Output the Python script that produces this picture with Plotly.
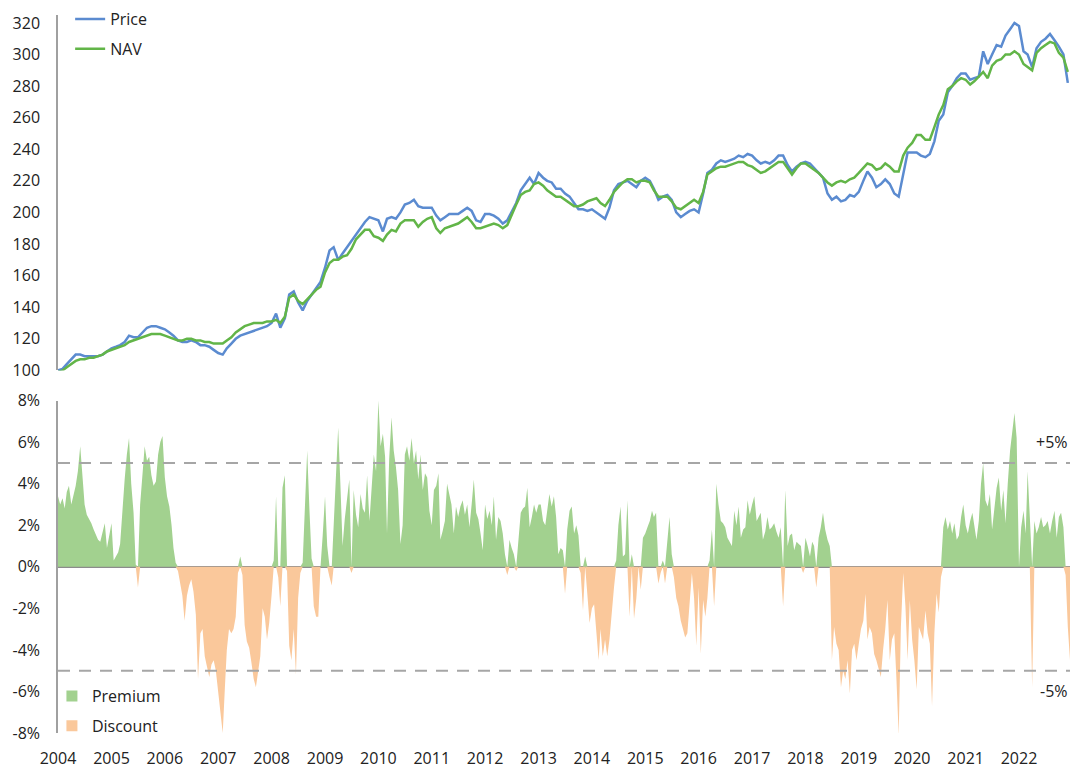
"""Price vs NAV with premium / discount panel."""

import pandas as pd
import plotly.graph_objects as go
from plotly.subplots import make_subplots

# monthly price and NAV, rebased to 100 (Jan 2004 .. Dec 2022)
price = [
    100, 101, 104, 107, 110, 110, 109, 109, 109, 109, 110, 112,
    114, 115, 116, 118, 122, 121, 121, 124, 127, 128, 128, 127,
    126, 124, 122, 119, 118, 118, 119, 118, 116, 116, 115, 113,
    111, 110, 114, 117, 120, 122, 123, 124, 125, 126, 127, 128,
    130, 136, 127, 133, 148, 150, 143, 138, 144, 148, 152, 156,
    165, 176, 178, 170, 174, 178, 182, 186, 190, 194, 197, 196,
    195, 188, 196, 197, 196, 200, 205, 206, 208, 204, 203, 203,
    203, 198, 195, 197, 199, 199, 199, 201, 203, 201, 195, 194,
    199, 199, 198, 196, 193, 195, 200, 206, 214, 218, 222, 218,
    225, 222, 220, 219, 215, 215, 212, 210, 206, 202, 202, 201,
    202, 200, 198, 196, 203, 214, 218, 219, 220, 218, 216, 220,
    222, 220, 215, 208, 210, 211, 208, 200, 197, 199, 201, 202,
    200, 212, 225, 227, 231, 233, 232, 233, 234, 236, 235, 237,
    236, 233, 231, 232, 231, 233, 236, 236, 230, 226, 229, 231,
    232, 231, 228, 225, 222, 212, 208, 210, 207, 208, 211, 210,
    213, 220, 226, 222, 216, 218, 221, 218, 212, 210, 225, 238,
    238, 238, 236, 235, 237, 245, 258, 262, 276, 280, 285, 288,
    288, 284, 285, 286, 302, 294, 300, 306, 305, 312, 316, 320,
    318, 302, 300, 292, 304, 308, 310, 313, 309, 305, 300, 282,
]
nav = [
    99, 100, 102, 104, 106, 107, 107, 108, 108, 109, 110, 112,
    113, 114, 115, 116, 118, 119, 120, 121, 122, 123, 123, 123,
    122, 121, 120, 119, 119, 120, 120, 119, 119, 118, 118, 117,
    117, 117, 119, 121, 124, 126, 128, 129, 130, 130, 130, 131,
    131, 132, 130, 134, 146, 148, 144, 142, 145, 148, 151, 153,
    162, 168, 170, 170, 172, 173, 177, 183, 186, 189, 189, 185,
    184, 182, 186, 189, 188, 193, 195, 195, 195, 191, 194, 196,
    197, 190, 187, 190, 191, 192, 193, 195, 197, 194, 190, 190,
    191, 192, 193, 192, 190, 192, 199, 205, 211, 213, 214, 218,
    219, 217, 214, 212, 210, 210, 208, 206, 204, 204, 205, 207,
    208, 209, 206, 204, 208, 213, 216, 219, 221, 221, 219, 220,
    220, 219, 214, 210, 210, 210, 207, 203, 202, 204, 206, 208,
    206, 213, 224, 226, 228, 229, 229, 230, 231, 232, 232, 230,
    229, 227, 225, 226, 228, 230, 232, 232, 228, 224, 228, 231,
    231, 229, 227, 225, 222, 219, 217, 219, 220, 219, 221, 222,
    225, 228, 231, 230, 227, 228, 231, 229, 226, 226, 236, 241,
    244, 249, 249, 246, 246, 254, 262, 268, 278, 280, 283, 285,
    284, 281, 283, 286, 289, 285, 293, 296, 297, 300, 300, 302,
    300, 294, 292, 290, 301, 304, 306, 308, 307, 301, 298, 289,
]

# premium (+) / discount (-) to NAV in %, twice a month
spread = [
    3.4, 3.0, 3.3, 2.8, 3.6, 3.9, 3.0, 3.5, 3.9, 4.6, 5.8, 4.4,
    3.0, 2.5, 2.3, 2.1, 1.8, 1.5, 1.3, 1.2, 1.7, 2.1, 0.9, 1.4,
    2.1, 0.3, 0.5, 0.7, 1.1, 2.8, 4.2, 5.4, 6.2, 4.0, 2.6, 0.1,
    -1.0, 3.0, 4.6, 5.8, 5.1, 5.3, 4.4, 3.9, 4.1, 5.4, 6.0, 6.3,
    4.3, 3.4, 2.9, 2.0, 0.9, 0.2, -0.2, -0.8, -1.4, -2.6, -1.4, -0.9,
    -0.6, -1.2, -2.3, -5.4, -3.2, -3.0, -4.3, -4.8, -5.3, -4.7, -4.5, -5.0,
    -6.0, -7.0, -8.0, -5.8, -4.0, -3.0, -3.2, -3.0, -2.4, -0.3, 0.5, -0.4,
    -2.8, -3.6, -3.9, -4.6, -5.4, -5.8, -5.0, -4.3, -2.0, -2.4, -3.5, -2.7,
    -1.4, 0.3, 3.4, -0.5, -1.9, 3.8, 4.4, -0.2, -3.8, -4.5, -3.0, -5.2,
    -1.5, -0.3, 0.2, 3.2, 5.6, 2.8, 0.4, -1.9, -2.4, -2.4, 0.0, 1.5,
    3.4, 1.0, -0.5, -0.9, 2.0, 4.8, 6.7, 4.0, 1.0, 2.3, 3.2, 4.2,
    -0.3, 3.7, 2.5, 1.9, 3.5, 2.8, 2.6, 4.4, 2.2, 4.0, 5.4, 4.6,
    8.0, 5.8, 6.4, 5.3, 1.6, 5.2, 7.2, 5.6, 4.8, 3.7, 1.1, 2.0,
    5.4, 5.8, 5.1, 6.2, 5.0, 5.6, 4.2, 5.4, 3.7, 4.5, 4.3, 2.7,
    2.0, 3.7, 3.9, 4.5, 1.3, 1.7, 2.2, 4.0, 3.5, 3.0, 1.6, 2.9,
    2.4, 2.9, 3.2, 2.5, 3.0, 1.9, 3.0, 4.2, 2.6, 2.3, 1.6, 0.8,
    3.0, 2.3, 2.7, 2.0, 3.4, 1.3, 2.4, 2.2, 1.6, 0.6, -0.4, 1.3,
    0.9, 0.6, -0.2, 1.5, 2.6, 2.8, 2.9, 3.8, 1.9, 2.4, 3.0, 2.6,
    3.0, 3.0, 2.2, 2.0, 2.7, 3.5, 2.9, 3.4, 2.4, 0.6, 0.9, 0.8,
    -1.3, 1.8, 2.7, 2.9, 1.6, 2.0, 1.5, -0.3, -2.1, 0.5, -1.5, -2.7,
    -2.0, -1.8, -3.2, -4.5, -3.0, -4.3, -3.5, -4.3, -3.5, -2.1, -1.0, 0.3,
    2.0, 2.9, 0.5, 0.6, 3.2, -2.4, 0.6, -2.5, -1.5, 0.0, -1.1, 1.4,
    1.6, 1.9, 2.2, 2.7, 2.4, 2.6, -0.8, -0.3, 0.3, -0.8, 1.3, 2.4,
    0.6, -0.5, -1.5, -1.9, -2.6, -3.0, -3.4, -3.2, -1.6, -0.3, -1.5, -3.8,
    -1.0, -4.2, -1.6, -2.4, -1.5, 0.3, 1.8, -1.9, 4.0, 3.0, 2.2, 2.1,
    1.9, 1.4, 1.2, 1.0, 2.7, 2.0, 2.9, 1.4, 1.8, 1.9, 3.2, 2.5,
    3.0, 3.4, 2.2, 2.4, 2.6, 1.3, 1.7, 2.4, 1.8, 1.9, 2.1, 1.7,
    1.4, 1.9, -1.9, 3.7, 1.0, 1.5, 1.6, 0.8, 1.2, 1.1, 1.0, -0.3,
    1.4, 1.0, 0.5, 1.2, 1.0, -1.0, 1.4, 1.9, 2.6, 1.8, 1.3, 1.0,
    -4.5, -2.9, -3.7, -4.0, -5.8, -5.0, -5.4, -4.5, -6.1, -4.0, -3.7, -4.5,
    -3.7, -3.0, -2.6, -1.3, -3.5, -2.9, -3.2, -4.2, -4.5, -4.9, -5.3, -4.0,
    -3.0, -1.6, -4.5, -3.5, -3.2, -5.5, -8.1, -2.9, -0.3, -1.9, -4.5, -1.6,
    -3.5, -4.5, -5.9, -2.9, -3.2, -3.5, -2.1, -3.2, -3.7, -6.7, -3.2, -1.3,
    -2.2, -0.5, 1.9, 2.4, 1.8, 2.2, 1.6, 2.1, 1.3, 1.5, 2.4, 3.0,
    2.0, 1.6, 2.2, 2.6, 2.0, 1.3, 2.2, 4.0, 5.0, 3.2, 2.9, 3.5,
    1.8, 2.8, 3.8, 4.3, 2.7, 3.7, 2.1, 4.0, 5.6, 6.5, 7.4, 6.2,
    0.0, 1.9, 2.7, 1.6, 4.6, 2.4, -5.8, 2.2, 1.6, 1.9, 2.4, 1.9,
    2.0, 2.2, 1.6, 2.2, 2.7, 1.4, 2.4, 2.6, 1.9, -0.4, -2.9, -4.5,
]

price_ticks = list(range(100, 340, 20))
spread_ticks = [-8, -6, -4, -2, 0, 2, 4, 6, 8]
spread_labels = ["-8%", "-6%", "-4%", "-2%", "0%", "2%", "4%", "6%", "8%"]

months = pd.date_range("2004-01-01", "2022-12-01", freq="MS")
half_months = [d + pd.Timedelta(days=off) for d in months for off in (0, 15)]

premium = [v if v > 0 else 0 for v in spread]
discount = [v if v < 0 else 0 for v in spread]

FONT = "'Open Sans', 'Noto Sans', sans-serif"
AXIS_GREY = "#a0a0a0"
GREEN_FILL = "#A2D18F"
ORANGE_FILL = "#FAC89B"

fig = make_subplots(rows=2, cols=1, shared_xaxes=True, vertical_spacing=0.0)

fig.add_trace(
    go.Scatter(x=months, y=price, name="Price", mode="lines",
               line=dict(color="#5B8BD0", width=2.5),
               legend="legend", legendgroup="p"),
    row=1, col=1,
)
fig.add_trace(
    go.Scatter(x=months, y=nav, name="NAV", mode="lines",
               line=dict(color="#62B548", width=2.5),
               legend="legend", legendgroup="n"),
    row=1, col=1,
)
fig.add_trace(
    go.Scatter(x=half_months, y=premium, name="Premium", mode="lines",
               fill="tozeroy", fillcolor=GREEN_FILL, line=dict(width=0, color=GREEN_FILL),
               showlegend=False),
    row=2, col=1,
)
fig.add_trace(
    go.Scatter(x=half_months, y=discount, name="Discount", mode="lines",
               fill="tozeroy", fillcolor=ORANGE_FILL, line=dict(width=0, color=ORANGE_FILL),
               showlegend=False),
    row=2, col=1,
)
# square legend keys for the two areas
for name, col in (("Premium", GREEN_FILL), ("Discount", ORANGE_FILL)):
    fig.add_trace(
        go.Scatter(x=[None], y=[None], name=name, mode="markers",
                   marker=dict(symbol="square", size=11, color=col),
                   legend="legend2", legendgroup=name),
        row=2, col=1,
    )

for level in (5, -5):
    fig.add_shape(type="line", xref="x2 domain", yref="y2", x0=0, x1=1,
                  y0=level, y1=level, line=dict(color="#a6a6a6", width=2, dash="12px,9px"))

fig.add_annotation(x=1, xref="x2 domain", y=6.0, yref="y2", text="+5%", showarrow=False,
                   xanchor="right", font=dict(size=16, color="#222"))
fig.add_annotation(x=1, xref="x2 domain", y=-6.0, yref="y2", text="-5%", showarrow=False,
                   xanchor="right", font=dict(size=16, color="#222"))

xr = ["2004-01-01", "2022-12-16"]
fig.update_xaxes(range=xr, showgrid=False, zeroline=False, showline=False,
                 dtick="M12", tickformat="%Y", ticks="")
fig.update_xaxes(showticklabels=False, row=1, col=1)
fig.update_xaxes(showticklabels=True, ticklabelstandoff=14, row=2, col=1)

fig.update_yaxes(showgrid=False, showline=True, linecolor=AXIS_GREY, linewidth=1.5,
                 ticks="", ticklabelstandoff=13)
fig.update_yaxes(range=[100, 325], tickvals=price_ticks, zeroline=False,
                 domain=[0.505, 1.0], row=1, col=1)
fig.update_yaxes(range=[-8, 8], tickvals=spread_ticks, ticktext=spread_labels,
                 zeroline=True, zerolinecolor="#8c8c8c", zerolinewidth=1.5,
                 domain=[0.0, 0.463], row=2, col=1)

fig.update_layout(
    width=1070,
    height=769,
    template="plotly_white",
    font=dict(family=FONT, size=16, color="#222"),
    margin=dict(l=58, r=0, t=15, b=33),
    legend=dict(x=0.012, y=1.018, xanchor="left", yanchor="top",
                bgcolor="rgba(0,0,0,0)", tracegroupgap=6, itemwidth=30),
    legend2=dict(x=-0.006, y=0.075, xanchor="left", yanchor="top",
                 bgcolor="rgba(0,0,0,0)", tracegroupgap=6, itemwidth=30),
)

# drop the page's default body margin so the figure sits at the window's corner
fig.write_html("out.html", config={"displayModeBar": False},
               post_script="document.body.style.margin = '0';")
